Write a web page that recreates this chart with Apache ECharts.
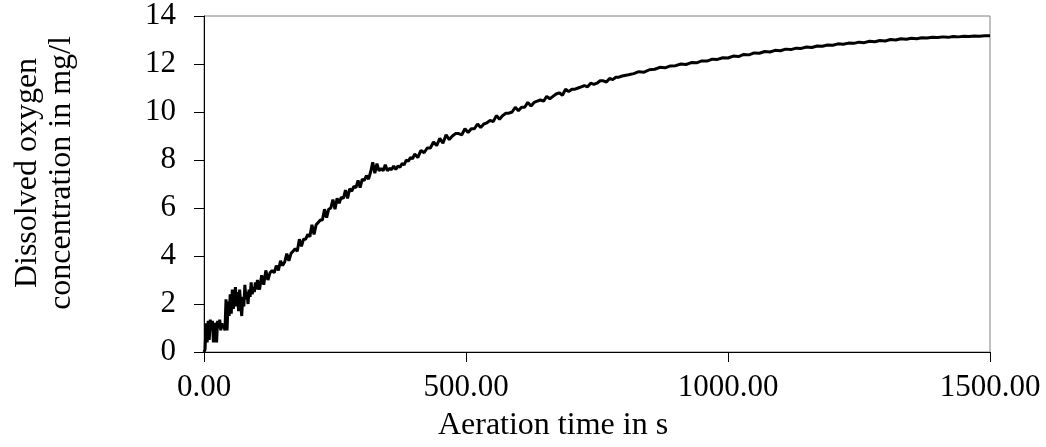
<!DOCTYPE html>
<html>
<head>
<meta charset="utf-8">
<script src="https://cdn.jsdelivr.net/npm/echarts@6/dist/echarts.min.js"></script>
<style>
html,body{margin:0;padding:0;background:#fff;}
#chart{width:1046px;height:447px;}
</style>
</head>
<body>
<div id="chart"></div>
<script>
// Aeration time (s)
const times = [
0,2,4,6,8,10,12,14,16,18,20,22,24,26,28,30,32,34,36,38,40,42,44,46,48,50,52,54,56,58,60,62,64,66,68,70,72,74,76,78,80,82,84,86,88,90,92,94,96,98,100,
102,106,110,114,118,122,126,130,134,138,142,146,150,154,158,162,166,170,174,178,182,186,190,194,198,202,206,210,214,218,222,226,230,234,238,242,246,250,254,258,262,266,270,274,278,282,286,290,294,298,302,306,310,314,318,322,326,330,334,338,342,346,350,354,358,362,366,370,374,378,382,386,390,394,398,
402,408,414,420,426,432,438,444,450,456,462,468,474,480,486,492,498,504,510,516,522,528,534,540,546,552,558,564,570,576,582,588,594,600,606,612,618,624,630,636,642,648,654,660,666,672,678,684,690,696,702,708,714,720,726,732,738,744,750,756,762,768,774,780,786,792,798,
810,820,830,840,850,860,870,880,890,900,910,920,930,940,950,960,970,980,990,1000,1010,1020,1030,1040,1050,1060,1070,1080,1090,1100,1110,1120,1130,1140,1150,1160,1170,1180,1190,1200,1210,1220,1230,1240,1250,1260,1270,1280,1290,1300,1310,1320,1330,1340,1350,1360,1370,1380,1390,1400,1410,1420,1430,1440,1450,1460,1470,1480,1490,1500
];
// Dissolved oxygen concentration (mg/l)
const oxygen = [
0,0.1,1.2,0.4,1.3,0.5,1.35,0.9,1.3,0.4,1.2,1.1,0.4,1.3,1.0,1.35,0.9,1.2,1.0,1.1,0.9,2.2,0.9,2.1,1.5,2.4,1.6,2.6,1.8,2.2,2.7,1.9,2.5,1.7,2.6,2.0,1.5,2.3,1.9,2.8,2.2,2.5,2.0,2.6,2.3,2.9,2.4,2.7,2.5,2.9,2.6,
3.0,2.6,3.2,2.8,3.4,3.0,3.3,3.4,3.3,3.6,3.4,3.8,3.6,3.75,4.1,3.8,4.1,4.2,4.3,4.2,4.7,4.4,4.7,4.7,4.9,4.8,5.3,4.9,5.3,5.4,5.5,5.5,5.95,5.6,5.95,6.0,6.35,5.95,6.4,6.2,6.45,6.4,6.75,6.4,6.8,6.7,6.9,6.85,7.15,6.85,7.2,7.15,7.35,7.2,7.5,7.9,7.45,7.85,7.55,7.65,7.55,7.8,7.55,7.65,7.6,7.75,7.6,7.75,7.7,7.85,7.8,8.0,7.95,8.1,8.05,
8.25,8.1,8.4,8.3,8.5,8.5,8.75,8.6,8.9,8.7,9.05,8.85,9.0,9.1,9.1,9.05,9.3,9.15,9.3,9.3,9.5,9.35,9.5,9.55,9.65,9.6,9.85,9.7,9.85,9.95,9.95,10.0,10.2,10.05,10.2,10.2,10.4,10.25,10.4,10.45,10.5,10.45,10.65,10.55,10.65,10.75,10.8,10.7,10.95,10.85,10.95,10.95,11.0,11.05,11.1,11.05,11.2,11.15,11.2,11.3,11.3,11.25,11.4,11.35,11.45,11.45,11.5,
11.55,11.6,11.68,11.66,11.76,11.78,11.86,11.84,11.92,11.93,12.0,11.98,12.06,12.05,12.13,12.12,12.2,12.19,12.26,12.25,12.33,12.31,12.4,12.38,12.46,12.45,12.52,12.5,12.57,12.55,12.62,12.6,12.66,12.65,12.71,12.69,12.75,12.74,12.79,12.78,12.84,12.82,12.87,12.86,12.91,12.89,12.95,12.93,12.98,12.96,13.02,13.0,13.05,13.03,13.07,13.05,13.09,13.08,13.11,13.1,13.13,13.11,13.15,13.13,13.16,13.15,13.17,13.16,13.18,13.18
];
const xTitle = 'Aeration time in s';
const yTitle = 'Dissolved oxygen\nconcentration in mg/l';

const FONT = 'Liberation Serif';
const chart = echarts.init(document.getElementById('chart'), null, {renderer: 'canvas'});
const seriesData = times.map((t, i) => [t, oxygen[i]]);
chart.setOption({
  animation: false,
  backgroundColor: '#ffffff',
  grid: {left: 204, right: 56, top: 16, bottom: 95, show: true, borderColor: '#808080', borderWidth: 1, containLabel: false},
  xAxis: {
    type: 'value', min: 0, max: 1500, interval: 500,
    axisLine: {show: true, onZero: false, lineStyle: {color: '#000', width: 1}},
    axisTick: {show: true, inside: false, length: 10, lineStyle: {color: '#000'}},
    splitLine: {show: false},
    axisLabel: {fontFamily: FONT, fontSize: 31, color: '#000', margin: 20, formatter: v => v.toFixed(2)}
  },
  yAxis: {
    type: 'value', min: 0, max: 14, interval: 2,
    axisLine: {show: true, lineStyle: {color: '#000', width: 1}},
    axisTick: {show: true, inside: false, length: 10, lineStyle: {color: '#000'}},
    splitLine: {show: false},
    axisLabel: {fontFamily: FONT, fontSize: 31, color: '#000', margin: 28}
  },
  graphic: [
    {type: 'text', x: 553, y: 426, style: {text: xTitle, fontFamily: FONT, fontSize: 32, fill: '#000', textAlign: 'center', textVerticalAlign: 'middle'}},
    {type: 'text', x: 45, y: 173, rotation: Math.PI / 2, style: {text: yTitle, fontFamily: FONT, fontSize: 32, lineHeight: 34, fill: '#000', textAlign: 'center', textVerticalAlign: 'middle'}}
  ],
  series: [{
    type: 'line', data: seriesData, showSymbol: false, symbol: 'none',
    lineStyle: {color: '#000', width: 3}, clip: true
  }]
});
</script>
</body>
</html>
